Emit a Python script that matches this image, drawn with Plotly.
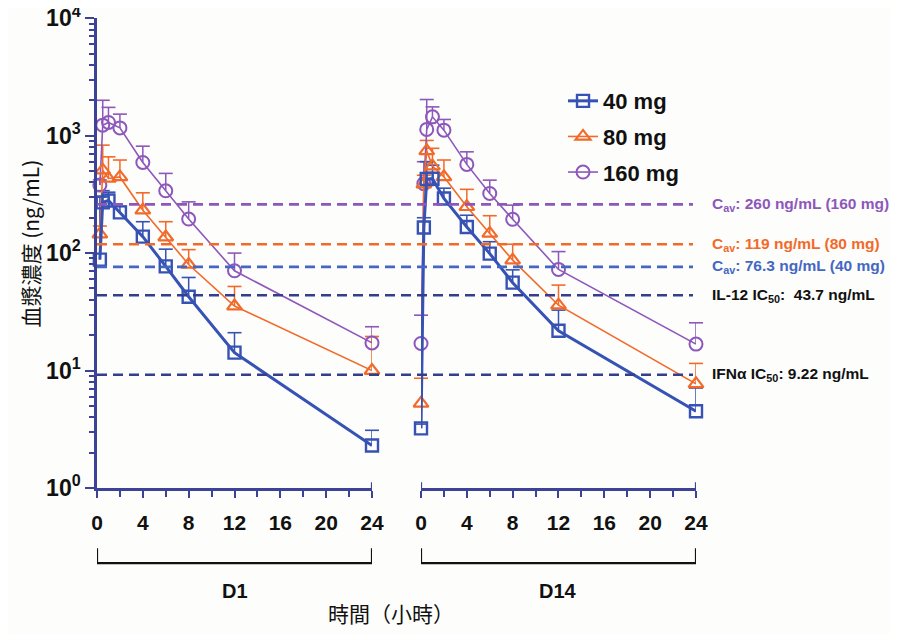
import math
import plotly.graph_objects as go

# ---------------- data ----------------
t_d1 = [0.25, 0.5, 1, 2, 4, 6, 8, 12, 24]
t_d14 = [0, 0.25, 0.5, 1, 2, 4, 6, 8, 12, 24]

mg40_d1 = [88, 270, 280, 222, 138, 77, 42.5, 14.2, 2.3]
mg40_d1_up = [300, 340, 330, 250, 185, 108, 62, 21, 3.1]
mg80_d1 = [145, 508, 432, 445, 232, 137, 80, 35.4, 10]
mg80_d1_up = [170, 830, 660, 620, 326, 185, 107, 52, 19.5]
mg160_d1 = [379, 1228, 1295, 1164, 591, 339, 195, 70.7, 17.2]
mg160_d1_up = [420, 2000, 1740, 1524, 813, 477, 273, 100, 23.6]

mg40_d14 = [3.22, 165, 427, 430, 292, 167, 99, 56, 21.8, 4.5]
mg40_d14_up = [3.5, 200, 600, 560, 357, 210, 125, 72, 32.7, 7.1]
mg80_d14 = [5.25, 387, 742, 550, 446, 248, 147, 87, 36, 7.7]
mg80_d14_up = [8.6, 460, 910, 780, 620, 349, 208, 119, 53.4, 11.5]
mg160_d14 = [17, 390, 1130, 1445, 1114, 569, 322, 194, 72.6, 16.8]
mg160_d14_up = [29.6, 600, 2030, 1757, 1373, 728, 418, 256, 103, 25.5]

ref_values = [260, 119, 76.3, 43.7, 9.22]
ref_labels = ["C<sub>av</sub>: 260 ng/mL (160 mg)",
              "C<sub>av</sub>: 119 ng/mL (80 mg)",
              "C<sub>av</sub>: 76.3 ng/mL (40 mg)",
              "IL-12 IC<sub>50</sub>:  43.7 ng/mL",
              "IFNα IC<sub>50</sub>: 9.22 ng/mL"]

x_ticks = [0, 4, 8, 12, 16, 20, 24]
y_ticks = [1, 10, 100, 1000, 10000]
y_ticktext = ["10<sup>0</sup>", "10<sup>1</sup>", "10<sup>2</sup>", "10<sup>3</sup>", "10<sup>4</sup>"]

# ---------------- styles ----------------
BLUE = "#3652b4"
ORANGE = "#f26a2a"
PURPLE = "#8d57bb"
NAVY = "#343d8e"
AXIS = "#3c4296"
LINE_COLORS = [PURPLE, ORANGE, "#4467c4", NAVY, NAVY]
TEXT_COLORS = [PURPLE, ORANGE, "#4467c4", "#111111", "#111111"]
FONT = "Liberation Sans"

series = [
    dict(name="160 mg", color=PURPLE, symbol="circle-open", size=13, lw=1.6, mlw=2,
         d1=mg160_d1, d1u=mg160_d1_up, d14=mg160_d14, d14u=mg160_d14_up, rank=3),
    dict(name="80 mg", color=ORANGE, symbol="triangle-up-open", size=13, lw=1.6, mlw=2.2,
         d1=mg80_d1, d1u=mg80_d1_up, d14=mg80_d14, d14u=mg80_d14_up, rank=2),
    dict(name="40 mg", color=BLUE, symbol="square-open", size=12, lw=3, mlw=2.4,
         d1=mg40_d1, d1u=mg40_d1_up, d14=mg40_d14, d14u=mg40_d14_up, rank=1),
]

fig = go.Figure()


def err_xy(ts, vs, us):
    xs, ys = [], []
    for t, v, u in zip(ts, vs, us):
        xs += [t, t, None]
        ys += [v, u, None]
    return xs, ys


for s in series:
    for ts, vs, us, xa in [(t_d1, s["d1"], s["d1u"], "x"), (t_d14, s["d14"], s["d14u"], "x2")]:
        ex, ey = err_xy(ts, vs, us)
        fig.add_trace(go.Scatter(x=ex, y=ey, xaxis=xa, yaxis="y", mode="lines",
                                 line=dict(color=s["color"], width=1.5),
                                 showlegend=False, hoverinfo="skip", cliponaxis=False))
        fig.add_trace(go.Scatter(x=ts, y=us, xaxis=xa, yaxis="y", mode="markers",
                                 marker=dict(symbol="line-ew", size=10,
                                             line=dict(color=s["color"], width=1.6)),
                                 showlegend=False, hoverinfo="skip", cliponaxis=False))

for s in series:
    for ts, vs, xa, show in [(t_d1, s["d1"], "x", True), (t_d14, s["d14"], "x2", False)]:
        fig.add_trace(go.Scatter(
            x=ts, y=vs, xaxis=xa, yaxis="y", mode="lines+markers", name=s["name"],
            legendgroup=s["name"], showlegend=show, legendrank=s["rank"],
            line=dict(color=s["color"], width=s["lw"]),
            marker=dict(symbol=s["symbol"], size=s["size"], color=s["color"],
                        line=dict(color=s["color"], width=s["mlw"])),
            cliponaxis=False))

# reference dashed lines
shapes = []
for v, c in zip(ref_values, LINE_COLORS):
    shapes.append(dict(type="line", xref="paper", yref="y", x0=0, x1=0.995, y0=v, y1=v,
                       line=dict(color=c, width=2.6, dash="10px,6px"), layer="above"))

# brackets under x axes
for xr in ["x", "x2"]:
    shapes.append(dict(type="path", xref=xr, yref="paper",
                       path="M 0,-0.128 L 0,-0.16 L 24,-0.16 L 24,-0.128",
                       line=dict(color="#111111", width=2.2)))
# end caps on x axes
for xr, xv in [("x", 24), ("x2", 0), ("x2", 24)]:
    shapes.append(dict(type="line", xref=xr, yref="paper", x0=xv, x1=xv, y0=0, y1=0.012,
                       line=dict(color=AXIS, width=2.2)))

annotations = []
for v, lab, c in zip(ref_values, ref_labels, TEXT_COLORS):
    annotations.append(dict(xref="paper", yref="y", x=1.024, y=math.log10(v), text=lab,
                            showarrow=False, xanchor="left", yanchor="middle",
                            font=dict(family=FONT, size=15.5, color=c, weight="bold")))
annotations += [
    dict(xref="x", yref="paper", x=12, y=-0.219, text="D1", showarrow=False,
         xanchor="center", yanchor="middle",
         font=dict(family=FONT, size=20, color="#111111", weight="bold")),
    dict(xref="x2", yref="paper", x=12, y=-0.219, text="D14", showarrow=False,
         xanchor="center", yanchor="middle",
         font=dict(family=FONT, size=20, color="#111111", weight="bold")),
    dict(xref="paper", yref="paper", x=0.491, y=-0.266, text="時間（小時）", showarrow=False,
         xanchor="center", yanchor="middle",
         font=dict(family="Noto Sans CJK TC", size=21, color="#111111")),
    dict(xref="paper", yref="paper", x=-0.112, y=0.52, text="血漿濃度 (ng/mL)", showarrow=False,
         textangle=-90, xanchor="center", yanchor="middle",
         font=dict(family="Noto Sans CJK TC", size=21, color="#111111")),
]

xaxis_common = dict(range=[0, 24], tickvals=x_ticks, ticks="outside", ticklen=7, tickwidth=2,
                    tickcolor=AXIS, showline=True, linecolor=AXIS, linewidth=2.5,
                    showgrid=False, zeroline=False, ticklabelstandoff=7, automargin=False,
                    tickfont=dict(family=FONT, size=21, color="#111111", weight="bold"),
                    minor=dict(tickvals=[2, 6, 10, 14, 18, 22], ticks="outside", ticklen=6,
                               tickwidth=2, tickcolor=AXIS, showgrid=False),
                    anchor="y", fixedrange=True)

# the page body has an 8px margin, so the figure is offset by 8px; margins compensate
fig.update_layout(
    width=898, height=634, autosize=False,
    margin=dict(l=89, r=210, t=10, b=154, autoexpand=False),
    paper_bgcolor="#fdfdfb", plot_bgcolor="rgba(0,0,0,0)",
    xaxis=dict(domain=[0, 0.4591], **xaxis_common),
    xaxis2=dict(domain=[0.5409, 1.0], **xaxis_common),
    yaxis=dict(type="log", range=[0, 4.0015], tickvals=y_ticks, ticktext=y_ticktext,
               ticks="outside", ticklen=9, tickwidth=2, tickcolor=AXIS, automargin=False,
               ticklabeloverflow="allow",
               showline=True, linecolor=AXIS, linewidth=2.5, showgrid=False, zeroline=False,
               tickfont=dict(family=FONT, size=23, color="#111111", weight="bold"),
               minor=dict(ticks="outside", ticklen=5, tickwidth=1.5, tickcolor=AXIS,
                          dtick="D1", showgrid=False),
               anchor="x", fixedrange=True),
    legend=dict(x=0.778, y=0.868, xanchor="left", yanchor="top", bgcolor="rgba(0,0,0,0)",
                font=dict(family=FONT, size=22, color="#111111", weight="bold"),
                itemwidth=30, tracegroupgap=4),
    shapes=shapes, annotations=annotations, showlegend=True,
)

fig.write_html("out.html")
